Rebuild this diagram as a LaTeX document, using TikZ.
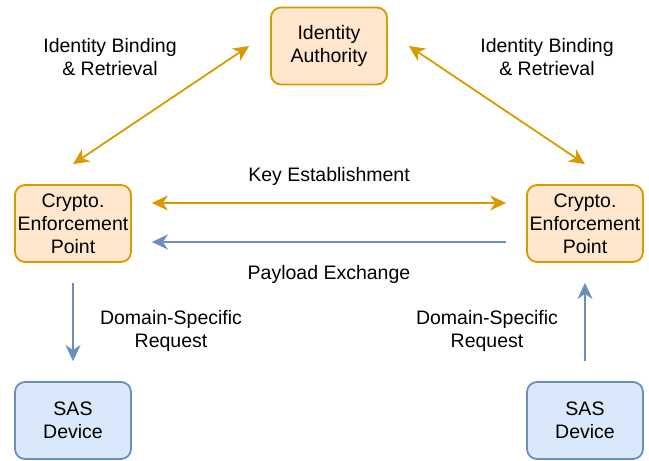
\documentclass[tikz,border=0pt]{standalone}
\usepackage{fontspec}
\setmainfont{Liberation Sans}
\usetikzlibrary{arrows.meta}
\definecolor{orfill}{HTML}{FFE6CC}
\definecolor{ordraw}{HTML}{D79B00}
\definecolor{blfill}{HTML}{DAE8FC}
\definecolor{bldraw}{HTML}{6C8EBF}
\begin{document}
\begin{tikzpicture}[x=1pt,y=-1pt,
  every node/.style={font=\fontsize{19.5}{23}\selectfont, align=center},
  box/.style={draw, line width=1.8pt, rounded corners=10pt, minimum width=116pt, minimum height=77pt, inner sep=0pt},
  orbox/.style={box, fill=orfill, draw=ordraw},
  blbox/.style={box, fill=blfill, draw=bldraw},
  tip/.style={-{Stealth[length=16pt,width=15pt,inset=5pt]}},
  both/.style={{Stealth[length=16pt,width=15pt,inset=5pt]}-{Stealth[length=16pt,width=15pt,inset=5pt]}},
  orline/.style={draw=ordraw, line width=1.8pt},
  blline/.style={draw=bldraw, line width=1.8pt},
  lbl/.style={inner sep=0pt}
]
\useasboundingbox (0,0) rectangle (649,461);
\node[orbox] (auth) at (329,46) {Identity\\Authority};
\node[orbox] (cepL) at (73,223.5) {Crypto.\\Enforcement\\Point};
\node[orbox] (cepR) at (585,223.5) {Crypto.\\Enforcement\\Point};
\node[blbox] (sasL) at (73,420.5) {SAS\\Device};
\node[blbox] (sasR) at (585,420.5) {SAS\\Device};

\draw[orline, both] ([yshift=20pt]cepL.north) -- ([xshift=-21pt]auth.west);
\draw[orline, both] ([xshift=21pt]auth.east) -- ([yshift=20pt]cepR.north);
\draw[orline, both, shorten <=20pt, shorten >=20pt] ([yshift=20.5pt]cepL.east) -- ([yshift=20.5pt]cepR.west);
\draw[blline, tip, shorten <=20pt, shorten >=20pt] ([yshift=-18.5pt]cepR.west) -- ([yshift=-18.5pt]cepL.east);
\draw[blline, tip, shorten <=20pt, shorten >=20pt] (cepL.south) -- (sasL.north);
\draw[blline, tip, shorten <=20pt, shorten >=20pt] (sasR.north) -- (cepR.south);

\node[lbl] (l1) at (110,57) {Identity Binding\\\& Retrieval};
\node[lbl] (l2) at (547,57) {Identity Binding\\\& Retrieval};
\node[lbl] (l3) at (329,176) {Key Establishment};
\node[lbl] (l4) at (329,274) {Payload Exchange};
\node[lbl] (l5) at (171,331) {Domain-Specific\\Request};
\node[lbl] (l6) at (487,331) {Domain-Specific\\Request};
\end{tikzpicture}
\end{document}
